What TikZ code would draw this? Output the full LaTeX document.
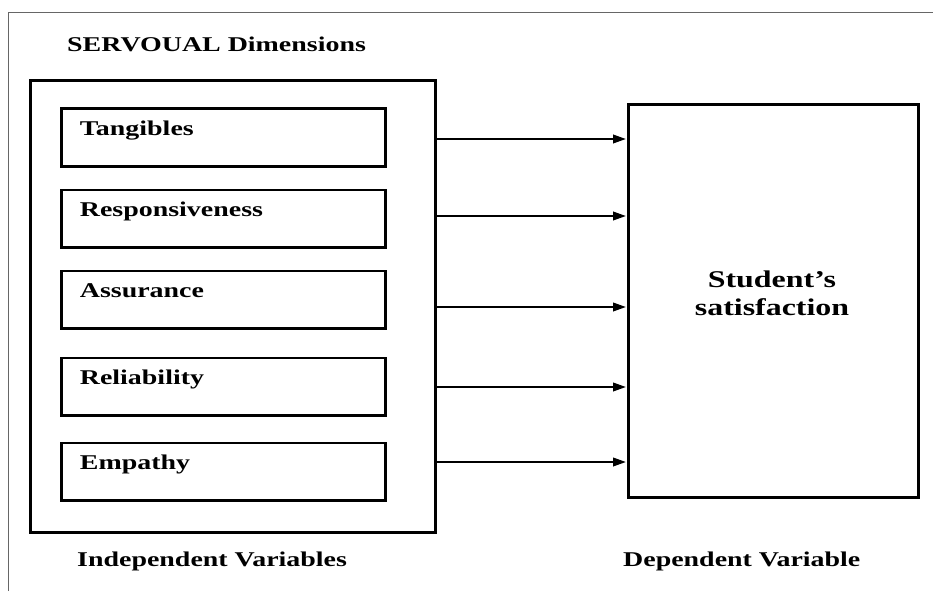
\documentclass[tikz,border=0pt]{standalone}
\usepackage{fontspec}
\newfontfamily\diagfont[FakeStretch=1.33]{Liberation Serif}
\usetikzlibrary{arrows.meta}

\begin{document}
\begin{tikzpicture}[x=1pt,y=-1pt,>={Triangle[length=13pt,width=8.5pt]},
                    font=\diagfont\bfseries\fontsize{21}{25}\selectfont]
  \tikzstyle{every node}=[inner sep=0pt]
  \tikzstyle{dimbox}=[draw,line width=2.8pt,anchor=north west,align=left,
                      text width=287pt,inner xsep=18.5pt,inner ysep=0pt,
                      text height=27pt,text depth=30.7pt]
  \tikzstyle{bigbox}=[draw,line width=3pt]
  \tikzstyle{flow}=[->,line width=2.2pt,shorten >=1pt]
  \tikzstyle{caption}=[anchor=base west]

  \useasboundingbox (0,0) rectangle (933,591);
  \draw[black!60,line width=1pt] (8,591) -- (8,13) -- (933,13);

  \node[caption]  (title)   at (67,52)     {SERVOUAL Dimensions};
  \node[bigbox,minimum width=405pt,minimum height=452pt]
                  (outer)   at (233,306.5) {};

  \node[dimbox]   (tang)    at (60,107.5)  {Tangibles};
  \node[dimbox]   (resp)    at (60,188.5)  {Responsiveness};
  \node[dimbox]   (assu)    at (60,269.5)  {Assurance};
  \node[dimbox]   (reli)    at (60,356.5)  {Reliability};
  \node[dimbox]   (empa)    at (60,441.5)  {Empathy};

  \node[bigbox,minimum width=290pt,minimum height=393pt]
                  (sat)     at (773.5,301) {};
  \node[align=center,font=\diagfont\bfseries\fontsize{24}{28}\selectfont]
                  (satlbl)  at (772,293)   {Student’s\\satisfaction};

  \node[caption]  (indep)   at (77,566)    {Independent Variables};
  \node[caption]  (dep)     at (623,566)   {Dependent Variable};

  \foreach \y in {139,216,307,387,462}
    \draw[flow] (outer.east |- 0,\y) -- (sat.west |- 0,\y);
\end{tikzpicture}
\end{document}
